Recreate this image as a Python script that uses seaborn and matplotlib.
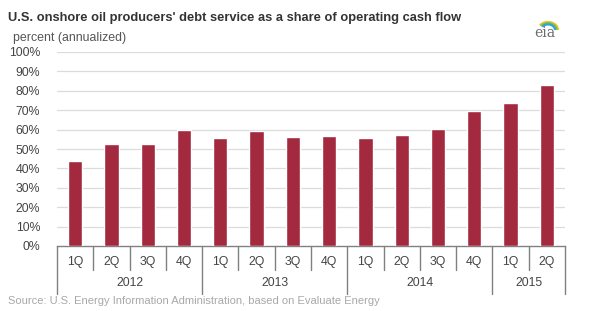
import matplotlib
matplotlib.use('Agg')
import matplotlib.pyplot as plt
import matplotlib.transforms as mtransforms
from matplotlib.patches import Arc
import pandas as pd
import seaborn as sns

# Datos (EIA)
trimestres = ['1Q', '2Q', '3Q', '4Q', '1Q', '2Q', '3Q', '4Q',
              '1Q', '2Q', '3Q', '4Q', '1Q', '2Q']
años = ['2012', '2013', '2014', '2015']
trimestres_por_año = [4, 4, 4, 2]
valores = [44.0, 52.6, 52.7, 59.8, 55.7, 59.1, 56.1, 56.7,
           55.7, 57.0, 60.1, 69.4, 73.5, 82.8]
yticks = [0, 10, 20, 30, 40, 50, 60, 70, 80, 90, 100]

sns.set_theme(style="white")
plt.rcParams['font.family'] = ['Liberation Sans', 'DejaVu Sans']

df = pd.DataFrame({'pos': range(len(valores)), 'valor': valores})

fig = plt.figure(figsize=(5.9, 3.11), dpi=100)
ax = fig.add_axes([57 / 590, 65 / 311, 508 / 590, 194 / 311])

sns.barplot(data=df, x='pos', y='valor', color='#a3293f', width=0.39,
            saturation=1, ax=ax, zorder=3)

ax.set_ylim(0, 100)
ax.set_xlim(-0.5, len(valores) - 0.5)
ax.set_yticks(yticks)
ax.set_yticklabels([f"{t}%" for t in yticks], fontsize=8.8, color='#444444')
ax.tick_params(axis='y', length=0, pad=12)
ax.set_xticks([])
ax.set_xlabel('')
ax.set_ylabel('')
for t in yticks[1:]:
    ax.axhline(t, color='#dcdcdc', lw=0.9, zorder=1)
sns.despine(ax=ax, left=True, top=True, right=True)
ax.spines['bottom'].set_color('#808080')
ax.spines['bottom'].set_linewidth(1)

# Eje categorico de dos niveles (trimestre / año)
trans = mtransforms.blended_transform_factory(ax.transData, ax.transAxes)
for i, q in enumerate(trimestres):
    ax.text(i, -0.085, q, transform=trans, ha='center', va='center',
            fontsize=8.8, color='#444444')
inicio = 0
bordes_año = [-0.5]
for año, n in zip(años, trimestres_por_año):
    centro = inicio + (n - 1) / 2
    ax.text(centro, -0.19, año, transform=trans, ha='center', va='center',
            fontsize=8.8, color='#444444')
    inicio += n
    bordes_año.append(inicio - 0.5)
for b in range(len(valores) + 1):
    x = b - 0.5
    y_fin = -0.245 if x in bordes_año else -0.125
    ax.plot([x, x], [0, y_fin], transform=trans, color='#808080', lw=1,
            clip_on=False)

fig.text(8 / 590, 1 - 18 / 311,
         "U.S. onshore oil producers' debt service as a share of operating cash flow",
         fontsize=9.3, fontweight='bold', color='#333333', va='center')
fig.text(13 / 590, 1 - 38 / 311, "percent (annualized)", fontsize=8.9,
         color='#555555', va='center')
fig.text(8 / 590, 1 - 301 / 311,
         "Source: U.S. Energy Information Administration, based on Evaluate Energy",
         fontsize=8.0, color='#a8a8a8', va='center')

# Logo eia
fig.text(545 / 590, 1 - 33 / 311, "eia", fontsize=10, color='#6b6b6b',
         ha='center', va='center', family='DejaVu Serif')
for r, c in [(10, '#f2c12e'), (8.5, '#7fc241'), (7, '#2aa6d8')]:
    fig.patches.append(Arc((548, 311 - 30), 2 * r, 1.6 * r, theta1=0,
                           theta2=150, transform=None, color=c, lw=1.6))

plt.savefig('out.png', dpi=100)
plt.close()
